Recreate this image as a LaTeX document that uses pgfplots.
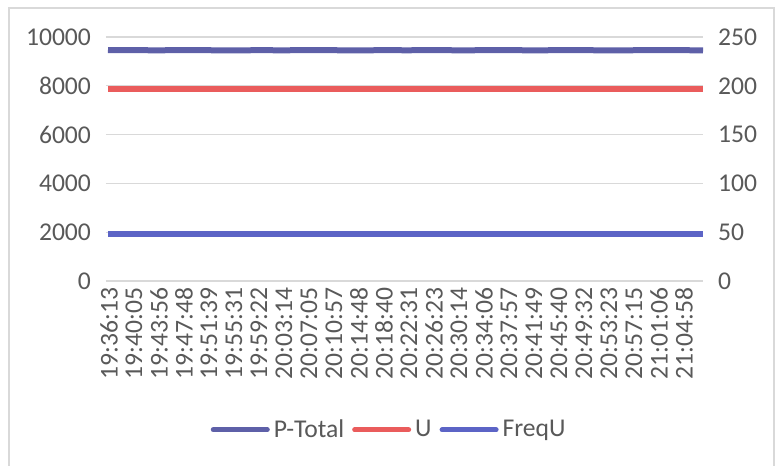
\documentclass[border=0pt]{standalone}
\usepackage{fontspec}
\setmainfont{Carlito}
\usepackage{pgfplots}
\pgfplotsset{compat=1.18}
\definecolor{ptot}{RGB}{94,96,168}
\definecolor{uvol}{RGB}{234,92,92}
\definecolor{freq}{RGB}{92,100,198}
\definecolor{gridc}{RGB}{217,217,217}
\definecolor{txt}{RGB}{89,89,89}
\begin{document}
\begin{tikzpicture}
\useasboundingbox (-53pt,-92.5pt) rectangle (335.5pt,140.5pt);
\draw[gridc, line width=0.6pt] (-48.5pt,-95pt) -- (-48.5pt,136.5pt) -- (334pt,136.5pt) -- (334pt,-95pt);
\pgfplotsset{
  every axis/.style={
    scale only axis, width=298.5pt, height=122pt, at={(0,0)}, anchor=south west,
    xmin=-0.08, xmax=23.8,
    axis line style={draw=none},
    tick style={draw=none},
    ticklabel style={font=\fontsize{12.8}{15}\selectfont, text=txt},
    scaled y ticks=false,
    /pgf/number format/assume math mode=true,
    /pgf/number format/1000 sep={},
  }
}
\begin{axis}[
  ymin=0, ymax=10000,
  ytick={0,2000,4000,6000,8000,10000},
  ymajorgrids, grid style={gridc, line width=0.6pt},
  yticklabel style={xshift=-4pt},
  xtick={0,1,...,23},
  xticklabels={19:36:13,19:40:05,19:43:56,19:47:48,19:51:39,19:55:31,19:59:22,20:03:14,20:07:05,20:10:57,20:14:48,20:18:40,20:22:31,20:26:23,20:30:14,20:34:06,20:37:57,20:41:49,20:45:40,20:49:32,20:53:23,20:57:15,21:01:06,21:04:58},
  xticklabel style={rotate=90, anchor=east, yshift=-0.5pt},
]
\addplot[ptot, line width=3pt, line join=round] coordinates {
(0,9465) (1,9460) (2,9455) (3,9462) (4,9458) (5,9450) (6,9460) (7,9455) (8,9462) (9,9458) (10,9452) (11,9460) (12,9456) (13,9463) (14,9455) (15,9458) (16,9461) (17,9454) (18,9459) (19,9462) (20,9450) (21,9457) (22,9460) (23,9458) (23.8,9455)
};
\end{axis}
\begin{axis}[
  ymin=0, ymax=250,
  ytick={0,50,100,150,200,250},
  axis y line*=right,
  axis x line=none,
  yticklabel style={xshift=4pt},
  legend style={at={(0.476,-0.61)}, anchor=center, draw=none, legend columns=3,
    font=\fontsize{12.8}{15}\selectfont, text=txt, inner sep=0pt,
    /tikz/every even column/.append style={column sep=2pt}},
  legend image code/.code={\draw[#1, line width=2.5pt, line cap=round] (0pt,0pt) -- (27pt,0pt);},
]
\addlegendimage{ptot}
\addlegendentry{P-Total}
\addplot[uvol, line width=3pt] coordinates {
(0,196.7) (4,196.7) (8,196.7) (12,196.7) (16,196.7) (20,196.7) (23.8,196.7)
};
\addlegendentry{U}
\addplot[freq, line width=3pt] coordinates {
(0,48) (4,48) (8,48) (12,48) (16,48) (20,48) (23.8,48)
};
\addlegendentry{FreqU}
\end{axis}
\end{tikzpicture}
\end{document}
